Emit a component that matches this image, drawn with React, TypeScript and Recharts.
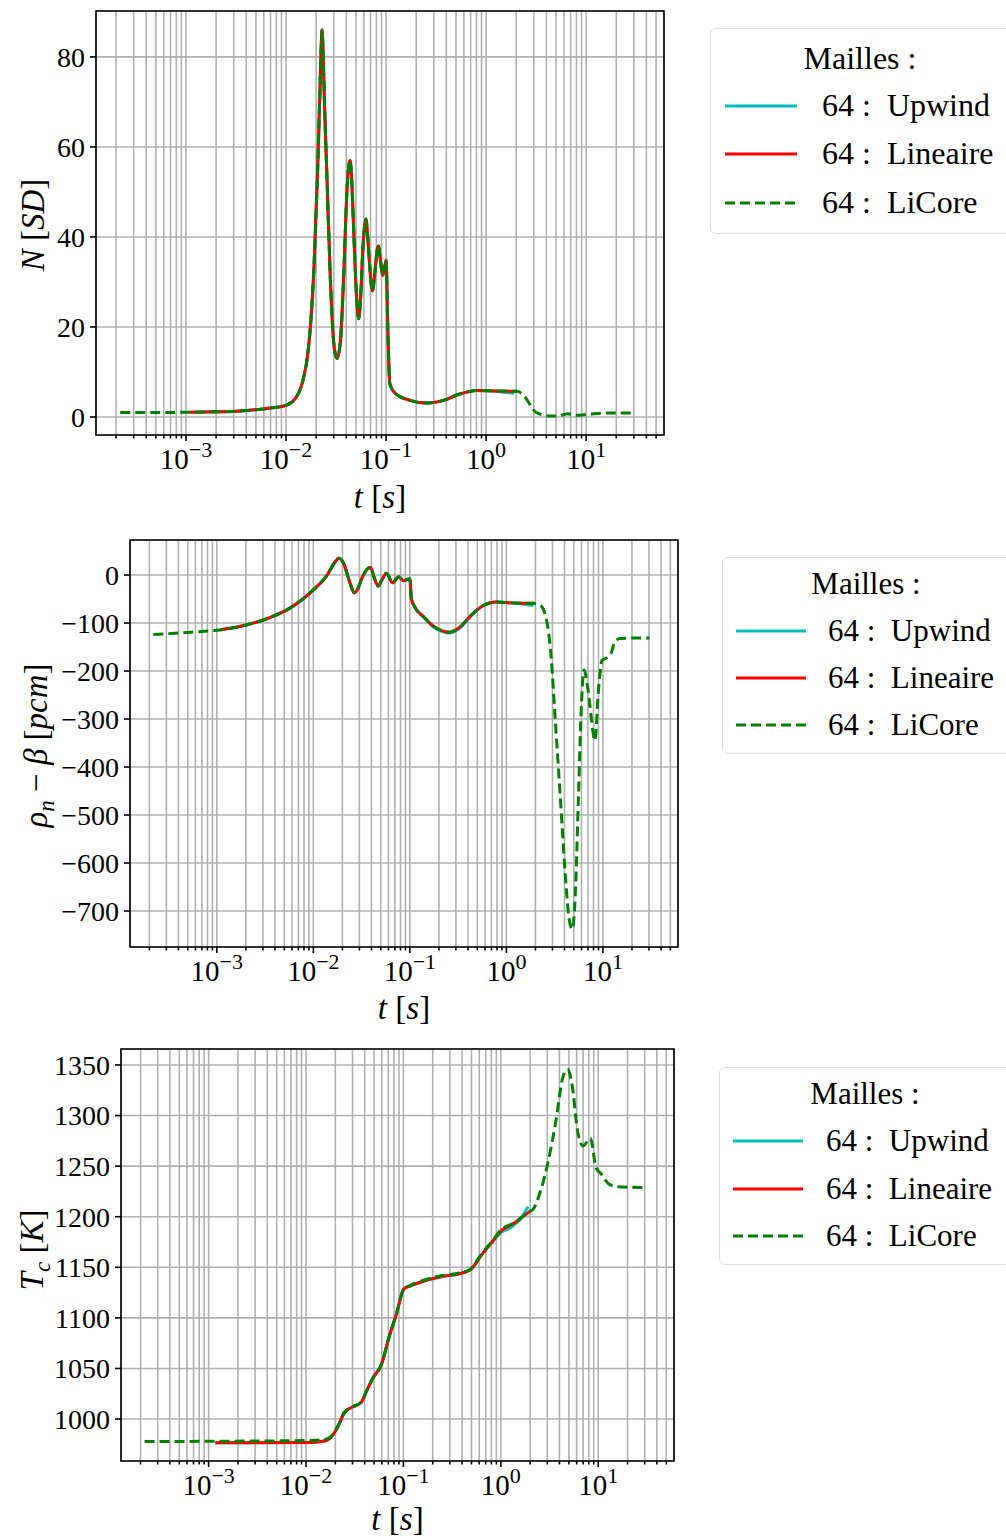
import React from 'react';
import { LineChart, Line, XAxis, YAxis, CartesianGrid, ReferenceArea } from 'recharts';

const FONT = '"Liberation Serif", "DejaVu Serif", serif';

// time axis (log) : tick positions, majors get a 10^k label
const timeTicks = [
  2e-4, 3e-4, 4e-4, 5e-4, 6e-4, 7e-4, 8e-4, 9e-4,
  1e-3, 2e-3, 3e-3, 4e-3, 5e-3, 6e-3, 7e-3, 8e-3, 9e-3,
  1e-2, 2e-2, 3e-2, 4e-2, 5e-2, 6e-2, 7e-2, 8e-2, 9e-2,
  0.1, 0.2, 0.3, 0.4, 0.5, 0.6, 0.7, 0.8, 0.9,
  1, 2, 3, 4, 5, 6, 7, 8, 9,
  10, 20, 30, 40, 50,
];
const timeDomain = [1.26e-4, 60];

const powerTicks = [0, 20, 40, 60, 80];
const reactivityTicks = [-700, -600, -500, -400, -300, -200, -100, 0];
const tempTicks = [1000, 1050, 1100, 1150, 1200, 1250, 1300, 1350];

const seriesNames = ['64 : Upwind', '64 : Lineaire', '64 : LiCore'];

// N [SD]  (t, value)
const powerLiCore = [
  [2.2e-4, 1.0], [5e-4, 1.0], [1e-3, 1.05], [2e-3, 1.15], [3.2e-3, 1.3], [5e-3, 1.6], [7e-3, 2.0],
  [0.01, 2.6], [0.0123, 4.0], [0.0147, 8], [0.0165, 14], [0.0178, 22], [0.019, 33], [0.0207, 55],
  [0.0218, 72], [0.0225, 83], [0.0229, 86], [0.0234, 82], [0.0242, 70], [0.0255, 55], [0.0278, 30],
  [0.0303, 15.5], [0.0324, 13], [0.035, 17], [0.0375, 30], [0.0408, 51], [0.0425, 56], [0.0437, 57],
  [0.045, 54], [0.0476, 40.7], [0.0506, 27], [0.0532, 21.8], [0.0558, 27], [0.0585, 37], [0.061, 42.5],
  [0.063, 44], [0.065, 41], [0.068, 34.8], [0.073, 28], [0.078, 33], [0.0825, 37.8], [0.0843, 38],
  [0.0865, 36], [0.093, 31.5], [0.097, 33.5], [0.1, 34.8], [0.1044, 18.5], [0.109, 7.4], [0.124, 5.2],
  [0.174, 3.7], [0.255, 3.1], [0.375, 3.7], [0.527, 5.0], [0.81, 5.9], [1.24, 5.8], [2.07, 5.7],
  [2.45, 4.4], [3.16, 1.0], [4.45, 0.2], [5.5, 0.3], [6.5, 0.7], [8.1, 0.4], [10.4, 0.6], [15.9, 0.9],
  [30.9, 0.9],
];
const powerLineaire = [
  [1.1e-3, 1.05], [2e-3, 1.15], [3.2e-3, 1.3], [5e-3, 1.6], [7e-3, 2.0],
  [0.01, 2.6], [0.0123, 4.0], [0.0147, 8], [0.0165, 14], [0.0178, 22], [0.019, 33], [0.0207, 55],
  [0.0218, 72], [0.0225, 83], [0.0229, 86], [0.0234, 82], [0.0242, 70], [0.0255, 55], [0.0278, 30],
  [0.0303, 15.5], [0.0324, 13], [0.035, 17], [0.0375, 30], [0.0408, 51], [0.0425, 56], [0.0437, 57],
  [0.045, 54], [0.0476, 40.7], [0.0506, 27], [0.0532, 21.8], [0.0558, 27], [0.0585, 37], [0.061, 42.5],
  [0.063, 44], [0.065, 41], [0.068, 34.8], [0.073, 28], [0.078, 33], [0.0825, 37.8], [0.0843, 38],
  [0.0865, 36], [0.093, 31.5], [0.097, 33.5], [0.1, 34.8], [0.1044, 18.5], [0.109, 7.4], [0.124, 5.2],
  [0.174, 3.7], [0.255, 3.1], [0.375, 3.7], [0.527, 5.0], [0.81, 5.9], [1.24, 5.8], [2.0, 5.7],
];
const powerUpwind = [
  [1.1e-3, 1.05], [2e-3, 1.15], [3.2e-3, 1.3], [5e-3, 1.6], [7e-3, 2.0],
  [0.01, 2.6], [0.0123, 4.0], [0.0147, 8], [0.0165, 14], [0.0178, 22], [0.019, 33], [0.0207, 55],
  [0.0218, 72], [0.0225, 83], [0.0229, 86], [0.0234, 82], [0.0242, 70], [0.0255, 55], [0.0278, 30],
  [0.0303, 15.5], [0.0324, 13], [0.035, 17], [0.0375, 30], [0.0408, 51], [0.0425, 56], [0.0437, 57],
  [0.045, 54], [0.0476, 40.7], [0.0506, 27], [0.0532, 21.8], [0.0558, 27], [0.0585, 37], [0.061, 42.5],
  [0.063, 44], [0.065, 41], [0.068, 34.8], [0.073, 28], [0.078, 33], [0.0825, 37.8], [0.0843, 38],
  [0.0865, 36], [0.093, 31.5], [0.097, 33.5], [0.1, 34.8], [0.1044, 18.5], [0.109, 7.4], [0.124, 5.2],
  [0.174, 3.7], [0.255, 3.1], [0.375, 3.7], [0.527, 5.0], [0.81, 5.9], [1.24, 5.7], [1.9, 5.2],
];

// rho_n - beta [pcm]
const reactivityLiCore = [
  [2.2e-4, -124], [5.4e-4, -119], [1e-3, -115], [1.97e-3, -104.5], [3.6e-3, -88], [5.6e-3, -70],
  [0.01, -31], [0.0139, 0], [0.0165, 25], [0.0184, 35], [0.0206, 24], [0.024, -17], [0.0267, -37],
  [0.029, -28], [0.0318, -7], [0.0389, 16], [0.043, -7], [0.047, -23], [0.052, -8], [0.057, 3.5],
  [0.0665, -16], [0.077, -3.5], [0.086, -12], [0.094, -9], [0.1, -8], [0.1035, -49], [0.112, -66],
  [0.139, -87], [0.18, -108], [0.234, -118], [0.256, -119], [0.332, -108], [0.43, -84], [0.56, -65],
  [0.79, -56], [1.12, -58], [1.88, -59], [2.24, -63], [2.56, -87], [2.91, -171], [3.18, -289],
  [3.62, -463], [4.12, -637], [4.5, -721], [4.82, -738], [5.16, -672], [5.58, -463], [5.94, -289],
  [6.37, -198], [6.95, -233], [7.57, -296], [8.26, -345], [9.0, -240], [9.8, -178], [11.2, -171],
  [12.2, -162], [13.3, -139], [15.2, -132], [30.4, -131],
];
const reactivityLineaire = [
  [1.1e-3, -114], [1.97e-3, -104.5], [3.6e-3, -88], [5.6e-3, -70],
  [0.01, -31], [0.0139, 0], [0.0165, 25], [0.0184, 35], [0.0206, 24], [0.024, -17], [0.0267, -37],
  [0.029, -28], [0.0318, -7], [0.0389, 16], [0.043, -7], [0.047, -23], [0.052, -8], [0.057, 3.5],
  [0.0665, -16], [0.077, -3.5], [0.086, -12], [0.094, -9], [0.1, -8], [0.1035, -49], [0.112, -66],
  [0.139, -87], [0.18, -108], [0.234, -118], [0.256, -119], [0.332, -108], [0.43, -84], [0.56, -65],
  [0.79, -56], [1.12, -58], [1.95, -59],
];
const reactivityUpwind = [
  [1.1e-3, -114], [1.97e-3, -104.5], [3.6e-3, -88], [5.6e-3, -70],
  [0.01, -31], [0.0139, 0], [0.0165, 25], [0.0184, 35], [0.0206, 24], [0.024, -17], [0.0267, -37],
  [0.029, -28], [0.0318, -7], [0.0389, 16], [0.043, -7], [0.047, -23], [0.052, -8], [0.057, 3.5],
  [0.0665, -16], [0.077, -3.5], [0.086, -12], [0.094, -9], [0.1, -8], [0.1035, -49], [0.112, -66],
  [0.139, -88], [0.18, -110], [0.234, -120], [0.256, -121], [0.332, -110], [0.43, -85], [0.56, -65],
  [0.79, -56], [1.12, -58], [1.9, -64],
];

// T_c [K]
const tempLiCore = [
  [2.2e-4, 977.7], [1e-3, 978], [0.0105, 978.7], [0.0148, 979.4], [0.0176, 982], [0.0209, 992],
  [0.0249, 1006.7], [0.0296, 1011.6], [0.0369, 1016.6], [0.042, 1028], [0.048, 1039.6],
  [0.0597, 1054.4], [0.0711, 1080.7], [0.0847, 1103.8], [0.101, 1128.5], [0.115, 1131.8],
  [0.156, 1136.7], [0.242, 1141.6], [0.374, 1144.3], [0.486, 1148.2], [0.632, 1163], [0.822, 1176.2],
  [0.98, 1186], [1.39, 1194.3], [1.97, 1205.2], [2.15, 1207.5], [2.56, 1225.6], [3.05, 1253.6],
  [3.63, 1291.4], [4.33, 1337.5], [4.84, 1345.7], [5.38, 1331], [6.14, 1284.8], [6.99, 1270],
  [8.32, 1277.6], [9.49, 1248.6], [10.8, 1242], [12.9, 1232.2], [16.0, 1229.5], [30.9, 1228.9],
];
const tempLineaire = [
  [1.17e-3, 976.5], [0.0105, 976.8], [0.0148, 978], [0.0176, 981], [0.0209, 991],
  [0.0249, 1006.7], [0.0296, 1011.6], [0.0369, 1016.6], [0.042, 1028], [0.048, 1039.6],
  [0.0597, 1054.4], [0.0711, 1080.7], [0.0847, 1103.8], [0.101, 1128.5], [0.115, 1131.2],
  [0.156, 1135.8], [0.242, 1140.6], [0.374, 1143.6], [0.486, 1147.5], [0.632, 1162], [0.822, 1175.5],
  [0.98, 1185], [1.39, 1194], [1.97, 1205],
];
const tempUpwind = [
  [1.17e-3, 976.5], [0.0105, 976.8], [0.0148, 978], [0.0176, 981], [0.0209, 991],
  [0.0249, 1006.7], [0.0296, 1011.6], [0.0369, 1016.6], [0.042, 1028], [0.048, 1039.6],
  [0.0597, 1054.4], [0.0711, 1080.7], [0.0847, 1103.8], [0.101, 1128.5], [0.115, 1131.2],
  [0.156, 1135.8], [0.242, 1140.6], [0.374, 1143.6], [0.486, 1147.5], [0.632, 1162], [0.822, 1175.5],
  [1.0, 1184], [1.3, 1190], [1.6, 1198], [1.9, 1210],
];

const toRows = (pairs: number[][]) => pairs.map(([t, v]) => ({ t, v }));

const minus = (v: number) => (v < 0 ? '\u2212' + Math.abs(v) : String(v));

const TimeTick = (props: any) => {
  const { x, y, payload } = props;
  const lg = Math.log10(payload.value);
  const e = Math.round(lg);
  const major = Math.abs(lg - e) < 1e-6;
  return (
    <g>
      <line x1={x} x2={x} y1={y} y2={y + (major ? 6 : 3.5)} stroke="#000" strokeWidth={1.6} />
      {major && (
        <text x={x} y={y + 34} textAnchor="middle" fontFamily={FONT} fontSize={29} fill="#000">
          10
          <tspan dy={-12} fontSize={22}>
            {minus(e)}
          </tspan>
        </text>
      )}
    </g>
  );
};

const XTitle = ({ lx, ly }: any) => (
  <text x={lx} y={ly} textAnchor="middle" fontFamily={FONT} fontSize={33} fill="#000">
    <tspan fontStyle="italic">t</tspan> [<tspan fontStyle="italic">s</tspan>]
  </text>
);

const YTitle = ({ lx, ly, kind }: any) => (
  <text
    x={lx}
    y={ly}
    transform={`rotate(-90 ${lx} ${ly})`}
    textAnchor="middle"
    fontFamily={FONT}
    fontSize={33}
    fill="#000"
  >
    {kind === 'power' && (
      <>
        <tspan fontStyle="italic">N</tspan> [<tspan fontStyle="italic">SD</tspan>]
      </>
    )}
    {kind === 'reactivity' && (
      <>
        <tspan fontStyle="italic">ρ</tspan>
        <tspan fontStyle="italic" fontSize={23} dy={7}>n</tspan>
        <tspan dy={-7}> − </tspan>
        <tspan fontStyle="italic">β</tspan> [<tspan fontStyle="italic">pcm</tspan>]
      </>
    )}
    {kind === 'temp' && (
      <>
        <tspan fontStyle="italic">T</tspan>
        <tspan fontStyle="italic" fontSize={23} dy={7}>c</tspan>
        <tspan dy={-7}> [</tspan>
        <tspan fontStyle="italic">K</tspan>]
      </>
    )}
  </text>
);

const colors = ['#00bfbf', '#ff0000', '#008000'];

const LegendBox = ({ left, top, width, height, rows, titleY, lineX0, lineX1, textX, fontSize }: any) => (
  <div
    style={{
      position: 'absolute',
      left,
      top,
      width,
      height,
      border: '1.5px solid #dcdcdc',
      borderRadius: 6,
      background: 'rgba(255,255,255,0.8)',
      fontFamily: FONT,
      fontSize,
      color: '#000',
      boxSizing: 'border-box',
    }}
  >
    <div style={{ position: 'absolute', left: 0, width: '100%', top: titleY - fontSize * 0.6, textAlign: 'center', lineHeight: `${fontSize * 1.2}px` }}>
      Mailles :
    </div>
    {seriesNames.map((name, i) => (
      <React.Fragment key={name}>
        <svg style={{ position: 'absolute', left: lineX0, top: rows[i] - 3 }} width={lineX1 - lineX0} height={6}>
          <line
            x1={0}
            x2={lineX1 - lineX0}
            y1={3}
            y2={3}
            stroke={colors[i]}
            strokeWidth={3}
            strokeDasharray={i === 2 ? '10 5' : undefined}
          />
        </svg>
        <div style={{ position: 'absolute', left: textX, top: rows[i] - fontSize * 0.62, whiteSpace: 'pre', lineHeight: `${fontSize * 1.2}px` }}>
          {name.replace(' : ', ' :  ')}
        </div>
      </React.Fragment>
    ))}
  </div>
);

const Panel = ({ cfg }: any) => {
  const yW = 80;
  const margin = {
    top: cfg.plotTop,
    left: cfg.plotLeft - yW,
    right: 1006 - cfg.plotRight,
    bottom: cfg.height - cfg.plotBottom - cfg.xH,
  };
  const cx = (cfg.plotLeft + cfg.plotRight) / 2;
  const cy = (cfg.plotTop + cfg.plotBottom) / 2 + cfg.yTitleShift;
  return (
    <div style={{ position: 'absolute', left: 0, top: cfg.top, width: 1006, height: cfg.height }}>
      <LineChart width={1006} height={cfg.height} margin={margin}>
        <CartesianGrid stroke="#b0b0b0" strokeWidth={1.6} />
        <XAxis
          dataKey="t"
          type="number"
          scale="log"
          domain={timeDomain}
          allowDataOverflow
          ticks={timeTicks}
          interval={0}
          tick={<TimeTick />}
          tickLine={false}
          axisLine={false}
          tickSize={0}
          tickMargin={0}
          height={cfg.xH}
          label={<XTitle lx={cx} ly={cfg.xTitleBaseline} />}
        />
        <YAxis
          type="number"
          domain={cfg.yDomain}
          allowDataOverflow
          ticks={cfg.yTicks}
          interval={0}
          width={yW}
          tickFormatter={minus}
          tick={{ fontSize: 28, fill: '#000', fontFamily: FONT }}
          tickLine={{ stroke: '#000', strokeWidth: 1.6 }}
          tickSize={6}
          tickMargin={5}
          axisLine={false}
          label={<YTitle lx={cfg.yTitleX} ly={cy} kind={cfg.kind} />}
        />
        <ReferenceArea
          x1={timeDomain[0]}
          x2={timeDomain[1]}
          y1={cfg.yDomain[0]}
          y2={cfg.yDomain[1]}
          fill="none"
          fillOpacity={0}
          stroke="#000"
          strokeWidth={1.6}
          ifOverflow="visible"
        />
        <Line data={toRows(cfg.upwind)} dataKey="v" type="monotone" stroke={colors[0]} strokeWidth={3} dot={false} isAnimationActive={false} name={seriesNames[0]} />
        <Line data={toRows(cfg.lineaire)} dataKey="v" type="monotone" stroke={colors[1]} strokeWidth={3} dot={false} isAnimationActive={false} name={seriesNames[1]} />
        <Line data={toRows(cfg.licore)} dataKey="v" type="monotone" stroke={colors[2]} strokeWidth={3} strokeDasharray="10 5" dot={false} isAnimationActive={false} name={seriesNames[2]} />
      </LineChart>
      <LegendBox {...cfg.legend} top={cfg.legend.top - cfg.top} />
    </div>
  );
};

const panels = [
  {
    kind: 'power', top: 0, height: 520, plotLeft: 96, plotTop: 11, plotRight: 664, plotBottom: 435, xH: 75,
    yDomain: [-4, 90.2], yTicks: powerTicks, xTitleBaseline: 508, yTitleX: 44, yTitleShift: 2,
    upwind: powerUpwind, lineaire: powerLineaire, licore: powerLiCore,
    legend: { left: 710, top: 28, width: 300, height: 206, titleY: 29, rows: [77, 125, 174], lineX0: 14, lineX1: 86, textX: 111, fontSize: 32 },
  },
  {
    kind: 'reactivity', top: 520, height: 510, plotLeft: 130, plotTop: 20, plotRight: 678, plotBottom: 427, xH: 73,
    yDomain: [-775, 73], yTicks: reactivityTicks, xTitleBaseline: 499, yTitleX: 47, yTitleShift: 2,
    upwind: reactivityUpwind, lineaire: reactivityLineaire, licore: reactivityLiCore,
    legend: { left: 722, top: 557, width: 288, height: 197, titleY: 26, rows: [73, 120, 167], lineX0: 13, lineX1: 83, textX: 105, fontSize: 31 },
  },
  {
    kind: 'temp', top: 1030, height: 509, plotLeft: 121, plotTop: 19, plotRight: 674, plotBottom: 431, xH: 70,
    yDomain: [958.5, 1365.8], yTicks: tempTicks, xTitleBaseline: 500, yTitleX: 43, yTitleShift: -5,
    upwind: tempUpwind, lineaire: tempLineaire, licore: tempLiCore,
    legend: { left: 719, top: 1067, width: 292, height: 198, titleY: 26, rows: [73, 121, 168], lineX0: 13, lineX1: 83, textX: 106, fontSize: 31 },
  },
];

export default function App() {
  return (
    <div style={{ position: 'absolute', left: 0, top: 0, width: 1006, height: 1539, overflow: 'hidden', background: '#fff' }}>
      {panels.map((cfg) => (
        <Panel key={cfg.kind} cfg={cfg} />
      ))}
    </div>
  );
}
